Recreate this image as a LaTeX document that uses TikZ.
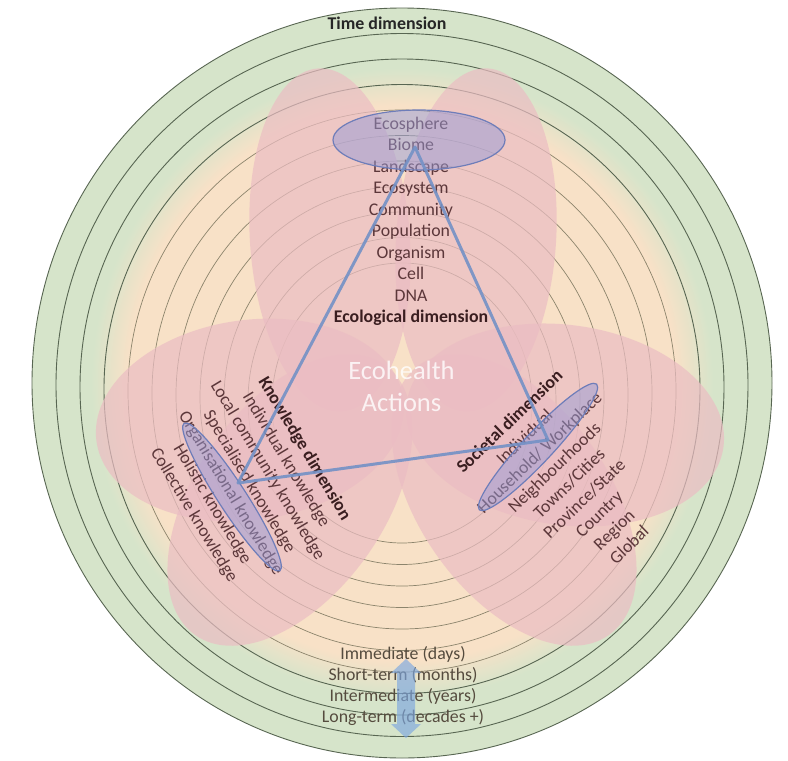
\documentclass[tikz,border=0pt]{standalone}
\usepackage{fontspec}
\setmainfont{Carlito}
\usetikzlibrary{shapes.geometric}
\definecolor{ringpeach}{RGB}{248,225,199}
\definecolor{ringgreen}{RGB}{214,228,202}
\definecolor{ringline}{RGB}{88,102,82}
\definecolor{ringlinesoft}{RGB}{140,132,108}
\definecolor{lobepink}{RGB}{235,189,195}
\definecolor{scalefill}{RGB}{150,155,215}
\definecolor{scaleedge}{RGB}{110,125,185}
\definecolor{linkblue}{RGB}{115,145,198}
\definecolor{arrowblue}{RGB}{125,168,225}
\definecolor{labeltext}{RGB}{92,55,58}
\definecolor{titletext}{RGB}{58,30,32}
\definecolor{timetext}{RGB}{85,75,62}
\pgfdeclareradialshading{ringshade}{\pgfpoint{0bp}{0bp}}{color(0bp)=(ringpeach); color(18.5bp)=(ringpeach); color(21bp)=(ringgreen); color(50bp)=(ringgreen)}
\begin{document}
\begin{tikzpicture}[x=1pt,y=-1pt,
  ringstroke/.style={draw=ringline, line width=0.9pt},
  ringsoft/.style={draw=ringlinesoft, line width=0.7pt},
  lobe/.style={fill=lobepink, fill opacity=0.7},
  scalebox/.style={ellipse, draw=scaleedge, line width=1.2pt, fill=scalefill, fill opacity=0.5, inner sep=0pt},
  link/.style={draw=linkblue, line width=3pt, line join=round, line cap=round, opacity=0.9},
  listtext/.style={align=center, text=labeltext, font=\fontsize{17.8}{21.5}\selectfont, inner sep=0pt},
  timelabel/.style={align=center, text=timetext, font=\fontsize{17.8}{21}\selectfont, inner sep=0pt}]
\useasboundingbox (0,0) rectangle (788,761);
\fill[white] (0,0) rectangle (788,761);
\coordinate (O) at (402,383);

% time rings: each inner ring sits a little lower than the one outside it
\shade[shading=ringshade] (O) ellipse [x radius=370, y radius=375];
\foreach \k in {0,...,3}
  \draw[ringstroke] (402,383+2*\k) ellipse [x radius=370-24*\k, y radius=375-23.5*\k];
\foreach \k in {4,...,10}
  \draw[ringsoft] (402,383+2*\k) ellipse [x radius=370-24*\k, y radius=375-23.5*\k];

% three two-lobed petals
\fill[lobe, rotate around={4:(330,240)}] (330,240) ellipse [x radius=80, y radius=172];
\fill[lobe, rotate around={-4:(476,240)}] (476,240) ellipse [x radius=80, y radius=172];
\fill[lobe, rotate around={8:(250,420)}] (250,420) ellipse [x radius=155, y radius=100];
\fill[lobe, rotate around={55:(290,500)}] (290,500) ellipse [x radius=165, y radius=95];
\fill[lobe, rotate around={-8:(565,425)}] (565,425) ellipse [x radius=160, y radius=100];
\fill[lobe, rotate around={-55:(514,500)}] (514,500) ellipse [x radius=165, y radius=95];

% labels
\node[font=\fontsize{17.9}{21}\selectfont\bfseries, text=black!85] (timetitle) at (387,23) {Time dimension};
\node[listtext] (ecolist) at (411,221.5) {Ecosphere\\Biome\\Landscape\\Ecosystem\\Community\\Population\\Organism\\Cell\\DNA\\\textbf{\color{titletext}Ecological dimension}};
\node[listtext, rotate=-59] (knowlist) at (249,482) {\textbf{\color{titletext}Knowledge dimension}\\Individual knowledge\\Local community knowledge\\Specialised knowledge\\Organisational knowledge\\Holistic knowledge\\Collective knowledge};
\node[listtext, rotate=44] (soclist) at (569,483) {\textbf{\color{titletext}Societal dimension}\\Individual\\Household/ Workplace\\Neighbourhoods\\Towns/Cities\\Province/State\\Country\\Region\\Global};
\node[align=center, text=white, text opacity=0.8, font=\fontsize{26.5}{32}\selectfont, inner sep=0pt] (actions) at (401.5,386) {Ecohealth\\Actions};
\node[timelabel] (timelist) at (403,686.5) {Immediate (days)\\Short-term (months)\\Intermediate (years)\\Long-term (decades +)};

% highlighted scale ranges
\node[scalebox, minimum width=172pt, minimum height=60pt] (ecoscale) at (419,140) {};
\node[scalebox, minimum width=176pt, minimum height=28pt, rotate=-57] (knowscale) at (232,497) {};
\node[scalebox, minimum width=172pt, minimum height=30pt, rotate=47] (socscale) at (538,447) {};
% time span arrow
\fill[arrowblue, fill opacity=0.65] (406,659) -- (421,673) -- (415,673) -- (415,724) -- (421,724)
  -- (406,738) -- (391,724) -- (397,724) -- (397,673) -- (391,673) -- cycle;

% links between the three dimensions
\coordinate (ecohub) at (415,147);
\coordinate (knowhub) at (238,483);
\coordinate (sochub) at (548,440);
\draw[link] (ecohub) -- (knowhub) -- (sochub) -- cycle;
\end{tikzpicture}
\end{document}
